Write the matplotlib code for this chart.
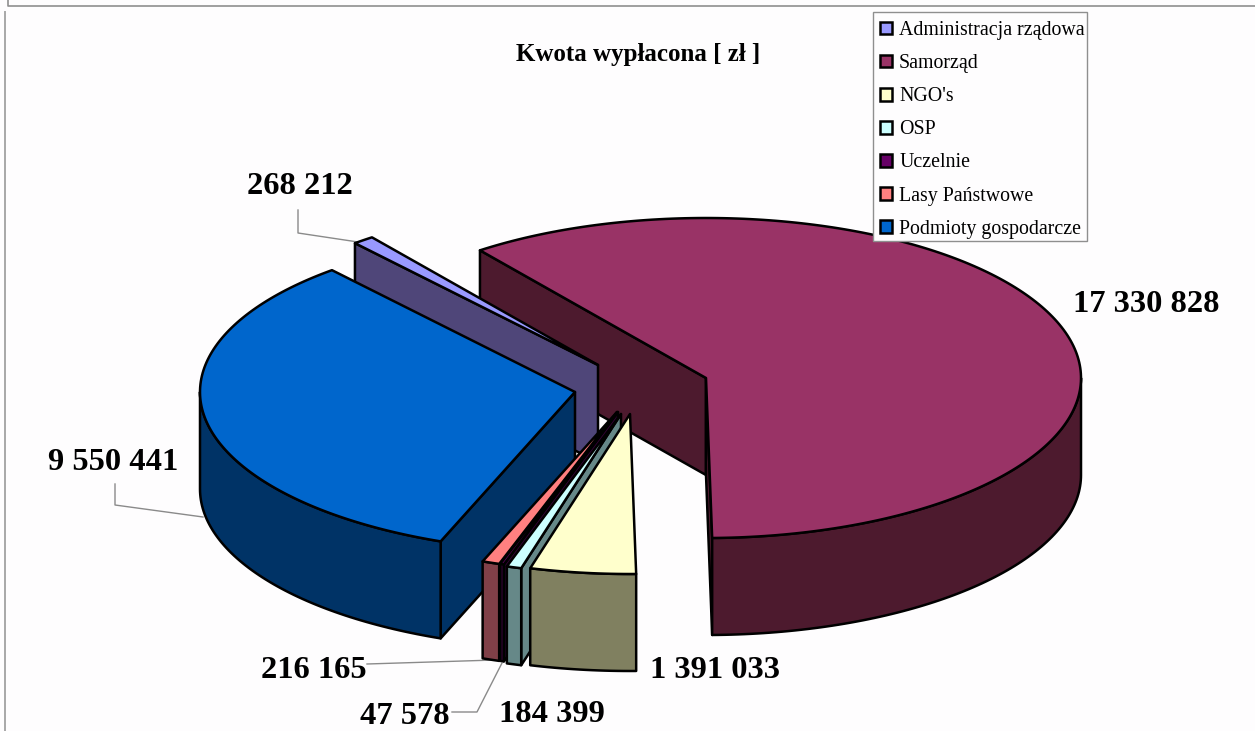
import numpy as np
import matplotlib
matplotlib.use("Agg")
import matplotlib.pyplot as plt
from matplotlib.patches import Polygon, Patch, Rectangle

# ---- data ----
categories = ["Administracja rządowa", "Samorząd", "NGO's", "OSP", "Uczelnie",
              "Lasy Państwowe", "Podmioty gospodarcze"]
values = [268212, 17330828, 1391033, 184399, 47578, 216165, 9550441]
title = "Kwota wypłacona [ zł ]"

# ---- style ----
top_colors = ["#9999FF", "#993366", "#FFFFCC", "#CCFFFF", "#660066", "#FF8080", "#0066CC"]
side_colors = ["#4F4679", "#4D1A2E", "#808060", "#668888", "#300030", "#804048", "#003366"]
apex = [(598, 365), (706, 378), (630, 414), (621, 414), (618, 412), (617, 412), (575, 392)]
draw_order = [1, 0, 6, 5, 4, 3, 2]
RX, RY, DEPTH = 375.0, 160.0, 97.0
START = -40.4
SAMORZAD_END_SHIFT = 0.9   # the 3D projection of the original is slightly off true angle
LW = 1.8
BG = "#FEFDFE"
FRAME = "#8F8F8F"
LABEL_FONT = "Liberation Serif"

fig = plt.figure(figsize=(12.55, 7.31), dpi=100, facecolor=BG)
ax = fig.add_axes([0, 0, 1, 1])
ax.set_xlim(0, 1255)
ax.set_ylim(731, 0)
ax.axis("off")

fracs = np.array(values, dtype=float) / np.sum(values)
edges = START + np.concatenate([[0], np.cumsum(fracs) * 360])
edges[2] += SAMORZAD_END_SHIFT


def arc(cx, cy, a0, a1, dy=0.0):
    n = max(2, int(abs(a1 - a0)) + 2)
    t = np.radians(np.linspace(a0, a1, n))
    return np.column_stack([cx + RX * np.sin(t), cy - RY * np.cos(t) + dy])


def poly(pts, fc, z):
    ax.add_patch(Polygon(pts, closed=True, facecolor=fc, edgecolor="black",
                         linewidth=LW, joinstyle="round", zorder=z))


z = 2
for i in draw_order:
    a0, a1 = edges[i], edges[i + 1]
    cx, cy = apex[i]
    side = side_colors[i]
    # radial walls facing the viewer
    if np.sin(np.radians(a0)) < 0:
        p = arc(cx, cy, a0, a0)[0]
        poly([(cx, cy), p, (p[0], p[1] + DEPTH), (cx, cy + DEPTH)], side, z)
        z += 1
    if np.sin(np.radians(a1)) > 0:
        p = arc(cx, cy, a1, a1)[0]
        poly([(cx, cy), p, (p[0], p[1] + DEPTH), (cx, cy + DEPTH)], side, z)
        z += 1
    # outer rim: only the near half of the ellipse shows
    lo, hi = max(a0, 90.0), min(a1, 270.0)
    if lo < hi:
        top = arc(cx, cy, lo, hi)
        bot = arc(cx, cy, lo, hi, DEPTH)[::-1]
        poly(np.vstack([top, bot]), side, z)
        z += 1
    # top face
    poly(np.vstack([[(cx, cy)], arc(cx, cy, a0, a1)]), top_colors[i], z)
    z += 1

# ---- value labels and leader lines ----
label_pos = [(299.5, 187), (1146, 305), (714.5, 670), (551.5, 714), (404.5, 716), (314, 670), (113, 462)]
leaders = [
    [(298, 210), (298, 233), (358, 242)],
    None,
    None,
    None,
    [(452, 712), (477, 712), (502, 663)],
    [(367, 664), (495, 660)],
    [(115, 484), (115, 505), (203, 517)],
]
for v, (x, y), lead in zip(values, label_pos, leaders):
    ax.text(x, y, f"{v:,}".replace(",", " "), ha="center", va="center",
            family=LABEL_FONT, fontweight="bold", fontsize=23.4, color="black", zorder=60)
    if lead:
        xs, ys = zip(*lead)
        ax.plot(xs, ys, color="#8A8A8A", lw=1.0, zorder=1)

ax.text(638, 55, title, ha="center", va="center", family=LABEL_FONT,
        fontweight="bold", fontsize=18, color="black", zorder=60)

# ---- legend ----
ax.add_patch(Rectangle((872.5, 12), 214, 229, facecolor=BG, edgecolor=FRAME,
                       linewidth=1.0, zorder=65))
handles = [Patch(facecolor=c, edgecolor="black", linewidth=1.8) for c in top_colors]
leg = ax.legend(handles, categories, loc="upper left", bbox_to_anchor=(872.5, 13.5),
                bbox_transform=ax.transData, borderaxespad=0, frameon=False,
                prop={"family": LABEL_FONT, "size": 14.3},
                handlelength=0.6, handleheight=0.6, handletextpad=0.36,
                labelspacing=0.71, borderpad=0.38)
leg.set_zorder(70)

# ---- page frame ----
ax.plot([7.5, 7.5, 1255], [0, 6, 6], color=FRAME, lw=1.2, zorder=1)
ax.plot([5, 5], [12, 731], color="#A8A8A8", lw=1.4, zorder=1)

fig.savefig("out.png", dpi=100, facecolor=BG)
